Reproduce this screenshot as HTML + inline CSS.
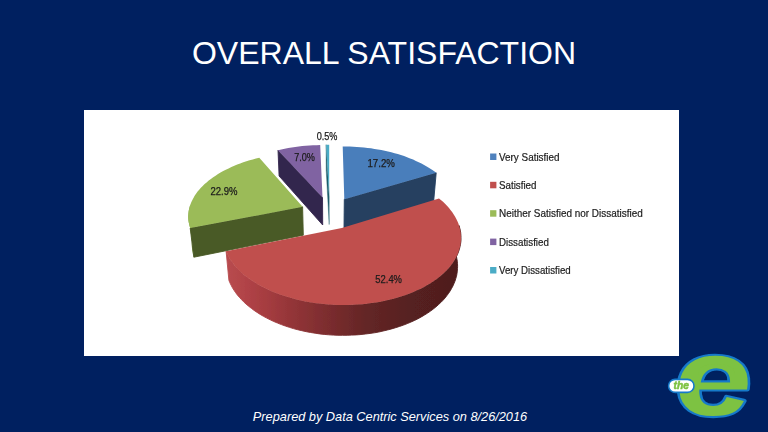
<!DOCTYPE html>
<html lang="en">
<head>
<meta charset="utf-8">
<title>Overall Satisfaction</title>
<style>
  html, body { margin: 0; padding: 0; }
  body { width: 768px; height: 432px; overflow: hidden; background: #002060; font-family: "Liberation Sans", sans-serif; }
  .slide { position: relative; width: 768px; height: 432px; background: #002060; overflow: hidden; }
  h1 { position: absolute; left: 0; top: 34px; width: 768px; margin: 0; text-align: center; color: #fff; font-weight: normal; font-size: 32px; line-height: 38px; letter-spacing: 0; white-space: nowrap; }
  .chart { position: absolute; left: 84px; top: 109.7px; width: 594.5px; height: 246.1px; background: #fff; }
  svg.art { position: absolute; left: 0; top: 0; width: 768px; height: 432px; }
  .lbl { font-family: "Liberation Sans", sans-serif; font-size: 10.2px; fill: #1c1c1c; stroke: #1c1c1c; stroke-width: 0.25px; }
  .leg { font-family: "Liberation Sans", sans-serif; font-size: 10.7px; fill: #1c1c1c; stroke: #1c1c1c; stroke-width: 0.2px; }
  .elogo { font-family: "Liberation Sans", sans-serif; font-weight: bold; font-style: italic; font-size: 110px; fill: #7dc242; stroke-linejoin: round; }
  .the { font-family: "Liberation Sans", sans-serif; font-weight: bold; font-style: italic; font-size: 10.5px; fill: #7dc242; stroke: #7dc242; stroke-width: 0.55px; }
  .footer { position: absolute; left: 6px; top: 410.1px; width: 768px; text-align: center; color: #fff; font-style: italic; font-size: 12.75px; line-height: 14px; white-space: nowrap; }
</style>
</head>
<body>
<div class="slide">
  <h1>OVERALL SATISFACTION</h1>
  <div class="chart"></div>
  <svg class="art" viewBox="0 0 768 432">
    <defs>
      <linearGradient id="redwall" gradientUnits="userSpaceOnUse" x1="227" y1="0" x2="461" y2="0">
        <stop offset="0" stop-color="#b84c4f"/>
        <stop offset="0.07" stop-color="#b24448"/>
        <stop offset="0.17" stop-color="#a53c40"/>
        <stop offset="0.26" stop-color="#963639"/>
        <stop offset="0.40" stop-color="#802e30"/>
        <stop offset="0.59" stop-color="#642626"/>
        <stop offset="0.80" stop-color="#552020"/>
        <stop offset="1" stop-color="#4e1e1e"/>
      </linearGradient>
      <filter id="soft" x="-5%" y="-5%" width="110%" height="110%"><feGaussianBlur stdDeviation="0.45"/></filter>
      <filter id="soft2" x="-5%" y="-5%" width="110%" height="110%"><feGaussianBlur stdDeviation="0.35"/></filter>
      <clipPath id="ecounter"><path d="M698,386 L698,375 Q698,364 716,364 Q735,364 735,375 L735,386 Z"/></clipPath>
    </defs>
    <g id="chartart" filter="url(#soft)">
    <!-- pie -->
    <path d="M322.5,197.5 L278.0,150.2 L279.1,176.0 L322.7,225.0Z" fill="#33264d" stroke="#33264d" stroke-width="0.9" stroke-linejoin="round"/>
    <path d="M322.5,197.5 L278.0,150.2 L281.3,149.4 L284.7,148.7 L288.2,148.1 L291.7,147.5 L295.2,147.0 L298.7,146.5 L302.2,146.1 L305.8,145.8 L309.4,145.5 L313.0,145.3 L316.6,145.2 L320.2,145.1Z" fill="#8064a2"/>
    <path d="M329.2,197.0 L326.1,144.7 L326.2,170.3 L329.2,224.5Z" fill="#1f5d6b" stroke="#1f5d6b" stroke-width="0.4" stroke-linejoin="round"/>
    <path d="M329.2,197.0 L326.1,144.7 L329.2,144.7Z" fill="#4bacc6"/>
    <path d="M344.3,199.2 L436.2,172.8 L433.7,200.9 L344.0,228.2Z" fill="#254061" stroke="#254061" stroke-width="0.9" stroke-linejoin="round"/>
    <path d="M344.3,199.2 L342.7,146.4 L346.3,146.4 L349.8,146.5 L353.4,146.7 L356.9,146.9 L360.5,147.2 L364.0,147.5 L367.5,147.9 L371.0,148.3 L374.4,148.9 L377.9,149.4 L381.3,150.1 L384.7,150.8 L388.0,151.5 L391.3,152.3 L394.6,153.2 L397.8,154.1 L400.9,155.1 L404.1,156.1 L407.1,157.2 L410.1,158.4 L413.1,159.6 L415.9,160.9 L418.7,162.2 L421.5,163.5 L424.1,165.0 L426.7,166.4 L429.2,168.0 L431.6,169.5 L433.9,171.1 L436.2,172.8Z" fill="#4a7ebb"/>
    <path d="M190.2,228.1 L189.5,225.7 L188.9,223.3 L188.5,221.0 L188.3,218.6 L188.2,216.2 L188.4,213.9 L188.6,211.5 L189.0,209.2 L189.6,206.9 L190.3,204.6 L193.7,232.3 L193.0,234.7 L192.5,237.1 L192.1,239.5 L191.9,241.9 L191.8,244.3 L191.8,246.7 L192.1,249.2 L192.5,251.6 L193.0,254.0 L193.8,256.5Z" fill="#8aa84e"/>
    <path d="M302.6,206.8 L190.2,228.1 L193.8,257.2 L303.3,235.2Z" fill="#4a5a26" stroke="#4a5a26" stroke-width="0.9" stroke-linejoin="round"/>
    <path d="M302.6,206.8 L190.2,228.1 L189.5,225.8 L189.0,223.6 L188.6,221.4 L188.3,219.2 L188.2,217.0 L188.3,214.8 L188.5,212.6 L188.8,210.4 L189.3,208.2 L189.9,206.0 L190.6,203.9 L191.5,201.8 L192.5,199.7 L193.6,197.7 L194.8,195.6 L196.2,193.6 L197.6,191.6 L199.2,189.7 L200.9,187.8 L202.7,186.0 L204.6,184.1 L206.6,182.4 L208.7,180.6 L210.9,178.9 L213.2,177.3 L215.6,175.7 L218.0,174.1 L220.5,172.6 L223.2,171.1 L225.8,169.7 L228.6,168.4 L231.4,167.0 L234.3,165.8 L237.2,164.6 L240.2,163.4 L243.3,162.3 L246.4,161.3 L249.6,160.3 L252.8,159.4 L256.0,158.5 L259.3,157.7Z" fill="#9bbb59"/>
    <path d="M459.1,225.6 L459.7,228.0 L460.3,230.3 L460.7,232.7 L460.9,235.1 L461.0,237.5 L461.0,239.9 L460.8,242.3 L460.4,244.7 L459.9,247.1 L459.3,249.6 L458.4,252.0 L457.5,254.4 L456.3,256.8 L455.0,259.2 L453.6,261.5 L452.0,263.9 L450.2,266.2 L448.3,268.4 L446.2,270.7 L443.9,272.9 L441.5,275.0 L439.0,277.2 L436.3,279.2 L433.4,281.2 L430.4,283.2 L427.3,285.1 L424.0,286.9 L420.6,288.7 L417.1,290.3 L413.4,291.9 L409.6,293.5 L405.7,294.9 L401.7,296.3 L397.6,297.5 L393.4,298.7 L389.1,299.8 L384.7,300.8 L380.3,301.7 L375.8,302.4 L371.2,303.1 L366.6,303.7 L361.9,304.2 L357.2,304.5 L352.5,304.8 L347.7,304.9 L343.0,305.0 L338.2,304.9 L333.4,304.7 L328.7,304.4 L324.0,304.0 L319.3,303.5 L314.7,302.9 L310.1,302.2 L305.6,301.4 L301.1,300.5 L296.7,299.5 L292.4,298.3 L288.1,297.1 L284.0,295.8 L280.0,294.5 L276.0,293.0 L272.2,291.4 L268.5,289.8 L264.9,288.1 L261.5,286.3 L258.1,284.5 L255.0,282.6 L251.9,280.6 L249.0,278.6 L246.3,276.5 L243.6,274.4 L241.2,272.2 L238.9,270.0 L236.7,267.7 L234.7,265.4 L232.9,263.1 L231.2,260.8 L229.7,258.4 L228.4,256.0 L227.2,253.6 L226.1,251.2 L228.9,280.3 L229.9,282.8 L231.1,285.2 L232.4,287.7 L233.9,290.1 L235.5,292.5 L237.3,294.9 L239.3,297.2 L241.4,299.5 L243.6,301.8 L246.0,304.0 L248.6,306.2 L251.3,308.3 L254.1,310.4 L257.1,312.4 L260.2,314.4 L263.4,316.3 L266.8,318.1 L270.2,319.8 L273.8,321.5 L277.6,323.1 L281.4,324.6 L285.3,326.0 L289.3,327.3 L293.4,328.6 L297.6,329.7 L301.9,330.7 L306.3,331.7 L310.7,332.5 L315.1,333.2 L319.6,333.9 L324.2,334.4 L328.7,334.8 L333.3,335.1 L337.9,335.3 L342.6,335.3 L347.2,335.3 L351.8,335.1 L356.4,334.9 L361.0,334.5 L365.5,334.0 L370.0,333.4 L374.4,332.8 L378.8,332.0 L383.1,331.0 L387.4,330.0 L391.6,328.9 L395.6,327.7 L399.6,326.4 L403.5,325.1 L407.3,323.6 L411.0,322.0 L414.6,320.4 L418.0,318.7 L421.3,316.9 L424.5,315.0 L427.6,313.1 L430.5,311.1 L433.3,309.0 L435.9,306.9 L438.4,304.7 L440.8,302.5 L443.0,300.3 L445.0,298.0 L446.9,295.6 L448.6,293.3 L450.2,290.9 L451.6,288.4 L452.9,286.0 L454.0,283.5 L455.0,281.1 L455.8,278.6 L456.5,276.1 L457.0,273.6 L457.3,271.1 L457.5,268.6 L457.6,266.2 L457.5,263.7 L457.3,261.2 L456.9,258.8 L456.4,256.4 L455.8,254.0Z" fill="url(#redwall)" stroke="url(#redwall)" stroke-width="0.9" stroke-linejoin="round"/>
    <path d="M341.8,228.0 L439.0,198.4 L441.2,200.2 L443.3,202.1 L445.3,204.1 L447.2,206.1 L449.0,208.1 L450.7,210.2 L452.3,212.3 L453.7,214.4 L455.0,216.6 L456.2,218.8 L457.3,221.1 L458.3,223.3 L459.1,225.7 L459.7,228.0 L460.3,230.3 L460.7,232.7 L460.9,235.1 L461.0,237.5 L461.0,239.9 L460.8,242.3 L460.4,244.7 L459.9,247.2 L459.2,249.6 L458.4,252.0 L457.5,254.4 L456.3,256.8 L455.0,259.2 L453.6,261.5 L452.0,263.9 L450.2,266.2 L448.3,268.4 L446.2,270.7 L443.9,272.9 L441.5,275.1 L439.0,277.2 L436.3,279.2 L433.4,281.2 L430.4,283.2 L427.3,285.1 L424.0,286.9 L420.6,288.7 L417.0,290.3 L413.4,291.9 L409.6,293.5 L405.7,294.9 L401.7,296.3 L397.6,297.5 L393.4,298.7 L389.1,299.8 L384.7,300.8 L380.3,301.7 L375.8,302.4 L371.2,303.1 L366.6,303.7 L361.9,304.2 L357.2,304.5 L352.5,304.8 L347.7,304.9 L343.0,305.0 L338.2,304.9 L333.4,304.7 L328.7,304.4 L324.0,304.0 L319.3,303.5 L314.7,302.9 L310.1,302.2 L305.5,301.4 L301.1,300.5 L296.7,299.5 L292.4,298.3 L288.1,297.1 L284.0,295.8 L280.0,294.5 L276.0,293.0 L272.2,291.4 L268.5,289.8 L264.9,288.1 L261.5,286.3 L258.1,284.5 L255.0,282.6 L251.9,280.6 L249.0,278.6 L246.2,276.5 L243.6,274.4 L241.2,272.2 L238.9,270.0 L236.7,267.7 L234.7,265.4 L232.9,263.1 L231.2,260.8 L229.7,258.4 L228.4,256.0 L227.2,253.6 L226.1,251.2Z" fill="#c0504d"/>
    <!-- data labels -->
    <text class="lbl" x="316.7" y="139.9" textLength="20.8" lengthAdjust="spacingAndGlyphs">0.5%</text>
    <text class="lbl" x="294.2" y="160.8" textLength="20.8" lengthAdjust="spacingAndGlyphs">7.0%</text>
    <text class="lbl" x="367.5" y="166.9" textLength="27.4" lengthAdjust="spacingAndGlyphs">17.2%</text>
    <text class="lbl" x="210.4" y="194.6" textLength="27" lengthAdjust="spacingAndGlyphs">22.9%</text>
    <text class="lbl" x="375.3" y="282.8" textLength="26.7" lengthAdjust="spacingAndGlyphs">52.4%</text>
    <!-- legend -->
    <rect x="490.1" y="153.5" width="6.3" height="6.5" fill="#4f81bd"/>
    <text class="leg" x="499" y="160.7" textLength="60.5" lengthAdjust="spacingAndGlyphs">Very Satisfied</text>
    <rect x="490.1" y="181.8" width="6.3" height="6.5" fill="#c0504d"/>
    <text class="leg" x="499" y="189.0" textLength="37.5" lengthAdjust="spacingAndGlyphs">Satisfied</text>
    <rect x="490.1" y="210.2" width="6.3" height="6.5" fill="#9bbb59"/>
    <text class="leg" x="499" y="217.4" textLength="143.7" lengthAdjust="spacingAndGlyphs">Neither Satisfied nor Dissatisfied</text>
    <rect x="490.1" y="238.6" width="6.3" height="6.5" fill="#8064a2"/>
    <text class="leg" x="499" y="245.8" textLength="49.9" lengthAdjust="spacingAndGlyphs">Dissatisfied</text>
    <rect x="490.1" y="267.0" width="6.3" height="6.5" fill="#4bacc6"/>
    <text class="leg" x="499" y="274.2" textLength="71.7" lengthAdjust="spacingAndGlyphs">Very Dissatisfied</text>
    </g>
    <!-- logo -->
    <g id="logo" filter="url(#soft2)">
      <g transform="translate(677.7,415.2) scale(1.27,1) skewX(5)">
        <text class="elogo" x="0" y="0" stroke="#1479c9" stroke-width="4.2">e</text>
        <text class="elogo" x="0" y="0">e</text>
      </g>
      <g clip-path="url(#ecounter)">
        <rect x="703.5" y="373" width="24" height="8.3" fill="#002060"/>
        <g transform="translate(677.9,417.9) scale(1.27,1) skewX(5)">
          <text class="elogo" x="0" y="0" stroke="#1479c9" stroke-width="4.2">e</text>
          <text class="elogo" x="0" y="0">e</text>
        </g>
      </g>
      <rect x="668.6" y="379.4" width="25.4" height="13" rx="6.5" ry="6.5" fill="#fff" stroke="#1479c9" stroke-width="1.6"/>
      <text class="the" x="673.6" y="389.3" textLength="15.3" lengthAdjust="spacingAndGlyphs">the</text>
    </g>
  </svg>
  <div class="footer">Prepared by Data Centric Services on 8/26/2016</div>
</div>
</body>
</html>
